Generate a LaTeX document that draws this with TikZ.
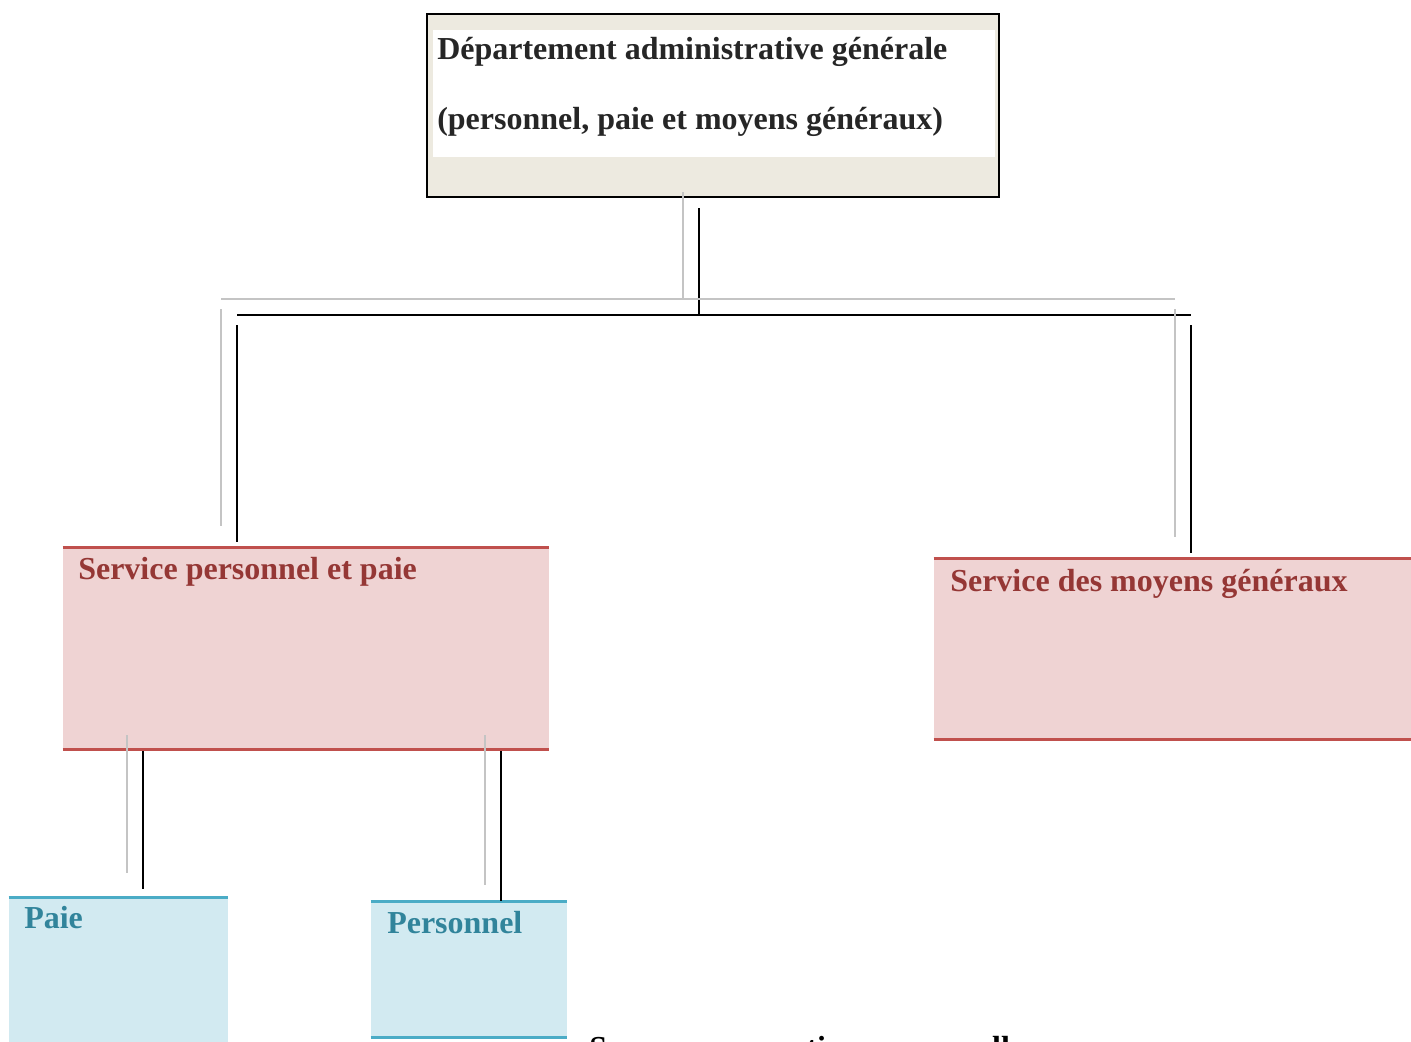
\documentclass[tikz,border=0pt]{standalone}
\usepackage{fontspec}
\setmainfont{Liberation Serif}
\usetikzlibrary{calc}

\definecolor{deptfill}{HTML}{EDEAE0}
\definecolor{deptink}{HTML}{262626}
\definecolor{svcfill}{HTML}{EFD3D3}
\definecolor{svcline}{HTML}{C0504D}
\definecolor{svcink}{HTML}{953735}
\definecolor{unitfill}{HTML}{D2EAF1}
\definecolor{unitline}{HTML}{4BACC6}
\definecolor{unitink}{HTML}{31849B}
\definecolor{shadowgray}{HTML}{C4C4C4}

% every connector is drawn twice: a grey copy offset up-left, then the black line
\newcommand\pairlink[2]{%
  \draw[linkshadow] ($#1+(-16,-16)$) -- ($#2+(-16,-16)$);
  \draw[link] #1 -- #2;}

\begin{document}
\begin{tikzpicture}[x=0.75pt,y=-0.75pt,
  font=\fontsize{24}{28}\selectfont\bfseries,
  deptbox/.style={draw=black,line width=1.5pt,fill=deptfill,inner sep=0pt},
  svcbox/.style={fill=svcfill,draw=none,inner sep=0pt},
  unitbox/.style={fill=unitfill,draw=none,inner sep=0pt},
  svcrule/.style={draw=svcline,line width=2.25pt},
  unitrule/.style={draw=unitline,line width=2.25pt},
  boxtext/.style={anchor=base west,inner sep=0pt},
  link/.style={draw=black,line width=1.5pt},
  linkshadow/.style={draw=shadowgray,line width=1.5pt}]
\useasboundingbox (0,0) rectangle (1411,1042);
\clip (0,0) rectangle (1411,1042);

% department box
\node[deptbox,minimum width=429pt,minimum height=137.25pt] (dept) at (713,105.5) {};
\fill[white] (433,30) rectangle (995,157);
\node[boxtext,text=deptink] (deptA) at (437,60) {Département administrative générale};
\node[boxtext,text=deptink] (deptB) at (437,129) {(personnel, paie et moyens généraux)};

% services
\node[svcbox,minimum width=364.5pt,minimum height=151.1pt] (spp) at (306,648.25) {};
\draw[svcrule] (spp.north west) -- (spp.north east);
\draw[svcrule] (spp.south west) -- (spp.south east);
\node[boxtext,text=svcink] (sppT) at (78,579) {Service personnel et paie};

\node[svcbox,minimum width=360.75pt,minimum height=135.75pt] (smg) at (1174.5,649) {};
\draw[svcrule] (smg.north west) -- (smg.north east);
\draw[svcrule] (smg.south west) -- (smg.south east);
\node[boxtext,text=svcink] (smgT) at (950,591) {Service des moyens généraux};

% units
\node[unitbox,minimum width=164.25pt,minimum height=114.4pt] (paie) at (118.5,973.75) {};
\draw[unitrule] (paie.north west) -- (paie.north east);
\node[boxtext,text=unitink] (paieT) at (24,928) {Paie};

\node[unitbox,minimum width=147pt,minimum height=101.6pt] (pers) at (469,969.25) {};
\draw[unitrule] (pers.north west) -- (pers.north east);
\draw[unitrule] (pers.south west) -- (pers.south east);
\node[boxtext,text=unitink] (persT) at (387,933) {Personnel};

% connectors
\coordinate (busM) at ($(dept.south)+(-14,118)$);
\coordinate (busL) at (237,315);
\coordinate (busR) at (1191,315);
\pairlink{($(dept.south)+(-14,10)$)}{(busM)}
\pairlink{(busL)}{(busR)}
\pairlink{($(busL)+(0,10)$)}{($(busL |- spp.north)+(0,-5)$)}
\pairlink{($(busR)+(0,10)$)}{($(busR |- smg.north)+(0,-5)$)}
\pairlink{($(spp.south west)+(80,2)$)}{($(spp.south west |- paie.north)+(80,-8.5)$)}
\pairlink{($(spp.south west)+(438,2)$)}{($(spp.south west |- pers.north)+(438,-0.5)$)}

% caption below the chart, running off the bottom of the page
\node[boxtext] (caption) at (589,1058) {Source : conception personnelle};
\end{tikzpicture}
\end{document}
